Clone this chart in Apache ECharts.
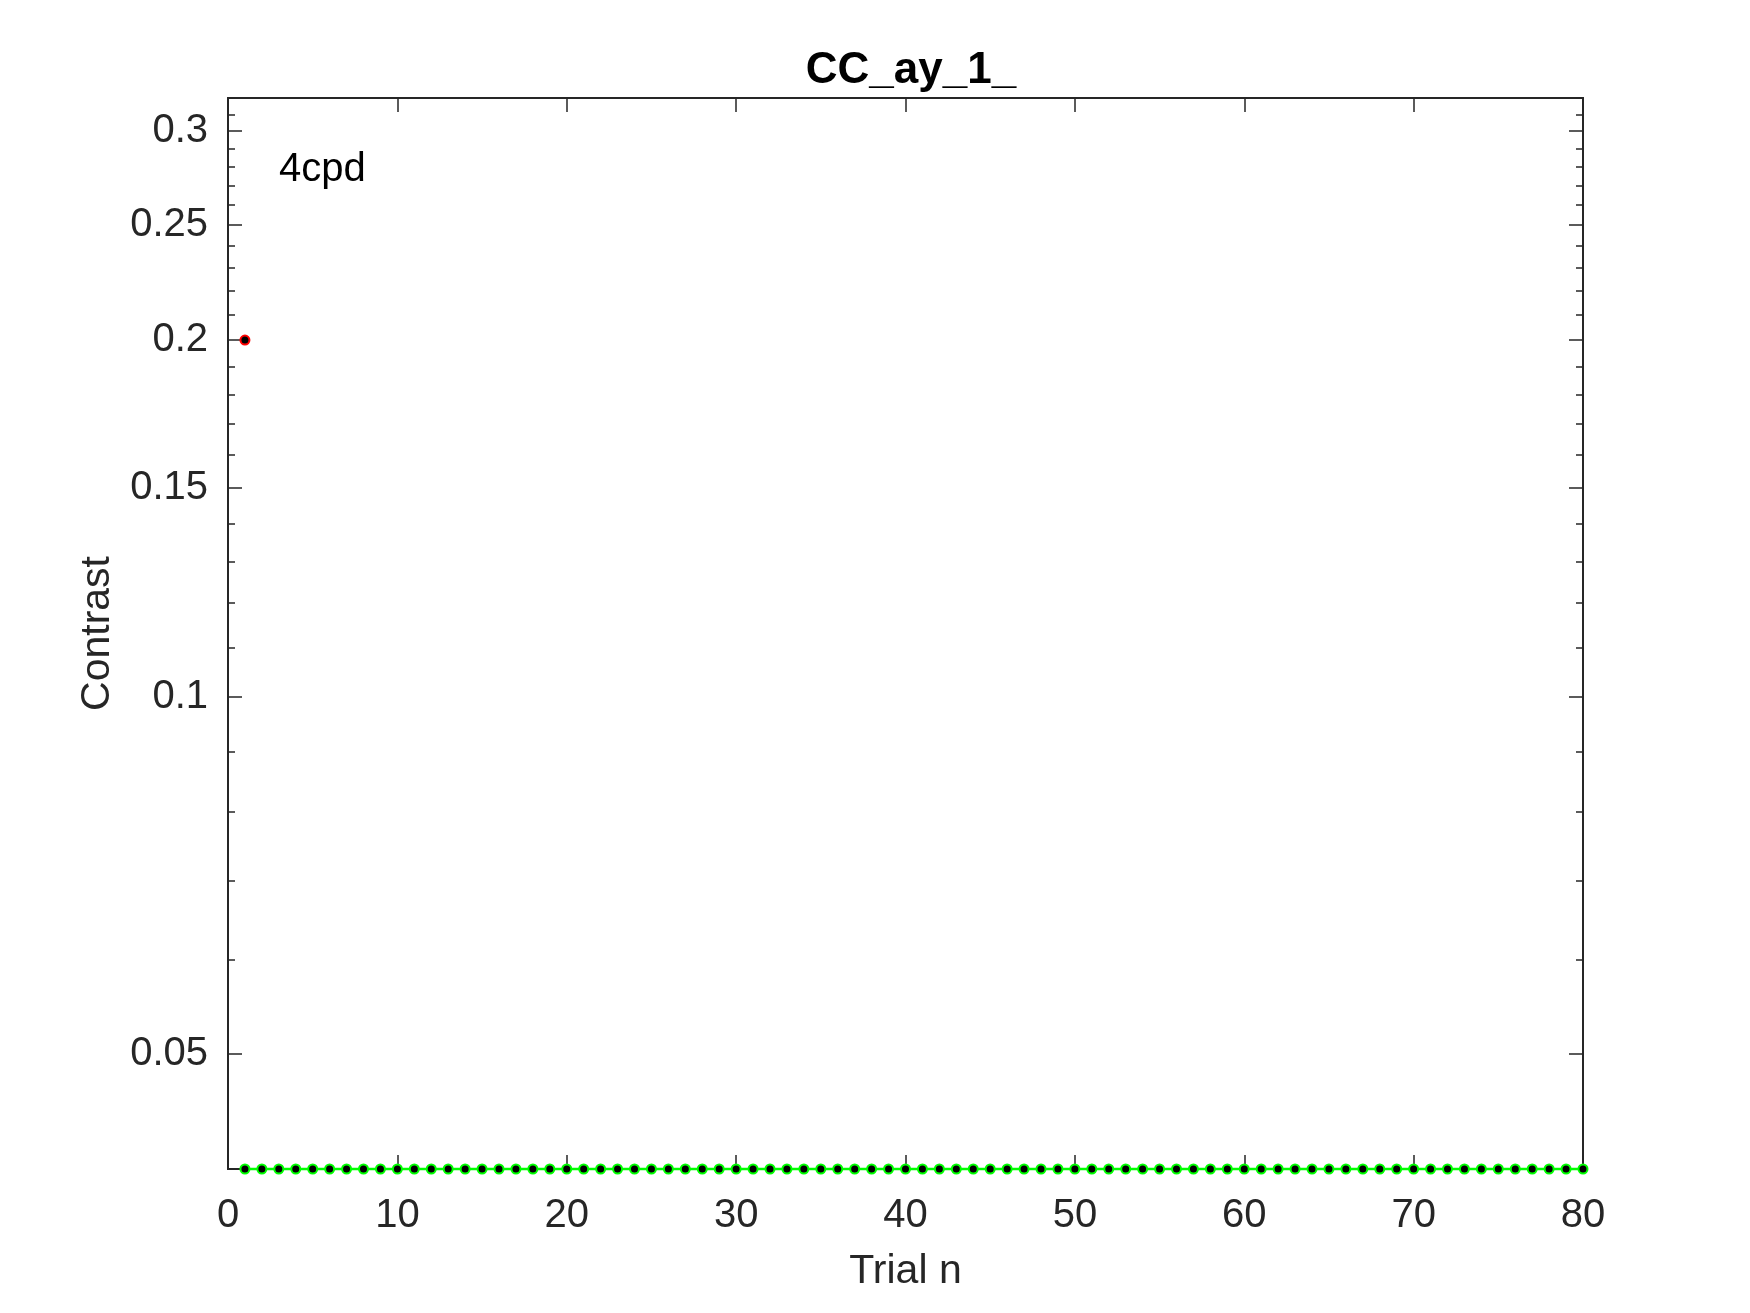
<!DOCTYPE html>
<html>
<head>
<meta charset="utf-8">
<script src="https://cdn.jsdelivr.net/npm/echarts@6/dist/echarts.min.js"></script>
<style>
html,body{margin:0;padding:0;background:#fff;}
#chart{width:1750px;height:1313px;}
</style>
</head>
<body>
<div id="chart"></div>
<script>
const trials = [1,2,3,4,5,6,7,8,9,10,11,12,13,14,15,16,17,18,19,20,21,22,23,24,25,26,27,28,29,30,31,32,33,34,35,36,37,38,39,40,41,42,43,44,45,46,47,48,49,50,51,52,53,54,55,56,57,58,59,60,61,62,63,64,65,66,67,68,69,70,71,72,73,74,75,76,77,78,79,80];
const greenContrast = [0.04,0.04,0.04,0.04,0.04,0.04,0.04,0.04,0.04,0.04,0.04,0.04,0.04,0.04,0.04,0.04,0.04,0.04,0.04,0.04,0.04,0.04,0.04,0.04,0.04,0.04,0.04,0.04,0.04,0.04,0.04,0.04,0.04,0.04,0.04,0.04,0.04,0.04,0.04,0.04,0.04,0.04,0.04,0.04,0.04,0.04,0.04,0.04,0.04,0.04,0.04,0.04,0.04,0.04,0.04,0.04,0.04,0.04,0.04,0.04,0.04,0.04,0.04,0.04,0.04,0.04,0.04,0.04,0.04,0.04,0.04,0.04,0.04,0.04,0.04,0.04,0.04,0.04,0.04,0.04];
const redTrials = [1];
const redContrast = [0.2];
const xTickValues = [0,10,20,30,40,50,60,70,80];
const yMajorTicks = [0.05,0.1,0.15,0.2,0.25,0.3];
const yMinorTicks = [0.04,0.06,0.07,0.08,0.09,0.11,0.12,0.13,0.14,0.16,0.17,0.18,0.19,0.21,0.22,0.23,0.24,0.26,0.27,0.28,0.29,0.31,0.32];
const titleText = 'CC_ay_1_';
const xName = 'Trial n';
const yName = 'Contrast';
const annotation = '4cpd';

const FONT = 'Liberation Sans, Arial, Helvetica, sans-serif';
const AX = '#262626';
const yMin = 0.04, yMax = 0.32;

function yAxis(position, ticks, len, showLabel, showName) {
  return {
    type: 'log', logBase: 10, min: yMin, max: yMax, position: position,
    name: showName ? yName : '', nameLocation: 'middle', nameGap: 110,
    nameTextStyle: {fontFamily: FONT, fontSize: 41, color: AX},
    axisLine: {show: true, lineStyle: {color: AX, width: 2}},
    axisTick: {show: true, inside: true, length: len, customValues: ticks, lineStyle: {color: AX, width: 1.5}},
    axisLabel: {show: showLabel, customValues: showLabel ? ticks : undefined, margin: 20, padding: [6, 0, 0, 0],
      fontFamily: FONT, fontSize: 40, color: AX,
      formatter: v => String(+(+v).toFixed(3))},
    splitLine: {show: false}, minorTick: {show: false}
  };
}

const chart = echarts.init(document.getElementById('chart'));
chart.setOption({
  animation: false,
  backgroundColor: '#fff',
  title: {text: titleText, left: 906, textAlign: 'center', top: 44,
    textStyle: {fontFamily: FONT, fontSize: 44, fontWeight: 'bold', color: '#000'}},
  grid: {left: 228, right: 167, top: 98, bottom: 144, containLabel: false},
  xAxis: [
    {type: 'value', min: 0, max: 80, interval: 10, position: 'bottom',
     name: xName, nameLocation: 'middle', nameGap: 82,
     nameTextStyle: {fontFamily: FONT, fontSize: 41, color: AX},
     axisLine: {show: true, onZero: false, lineStyle: {color: AX, width: 2}},
     axisTick: {show: true, inside: true, length: 14, lineStyle: {color: AX, width: 1.5}},
     axisLabel: {margin: 27, fontFamily: FONT, fontSize: 40, color: AX, customValues: xTickValues},
     splitLine: {show: false}},
    {type: 'value', min: 0, max: 80, interval: 10, position: 'top',
     axisLine: {show: true, onZero: false, lineStyle: {color: AX, width: 2}},
     axisTick: {show: true, inside: true, length: 14, lineStyle: {color: AX, width: 1.5}},
     axisLabel: {show: false}, splitLine: {show: false}}
  ],
  yAxis: [
    yAxis('left', yMajorTicks, 14, true, true),
    yAxis('left', yMinorTicks, 7, false, false),
    yAxis('right', yMajorTicks, 14, false, false),
    yAxis('right', yMinorTicks, 7, false, false)
  ],
  graphic: [{type: 'text', x: 279, y: 150,
    style: {text: annotation, fontFamily: FONT, fontSize: 40, fill: '#000', verticalAlign: 'top'}}],
  series: [
    {type: 'line', name: 'green', xAxisIndex: 0, yAxisIndex: 0, clip: false,
     data: trials.map((t, i) => [t, greenContrast[i]]),
     symbol: 'circle', symbolSize: 9, showSymbol: true,
     lineStyle: {color: '#00ff00', width: 2.5},
     itemStyle: {color: '#000', borderColor: '#00ff00', borderWidth: 2}, z: 3},
    {type: 'line', name: 'red', xAxisIndex: 0, yAxisIndex: 0, clip: false,
     data: redTrials.map((t, i) => [t, redContrast[i]]),
     symbol: 'circle', symbolSize: 9, showSymbol: true,
     lineStyle: {color: '#ff0000', width: 2.5},
     itemStyle: {color: '#000', borderColor: '#ff0000', borderWidth: 2}, z: 4}
  ]
});
</script>
</body>
</html>
